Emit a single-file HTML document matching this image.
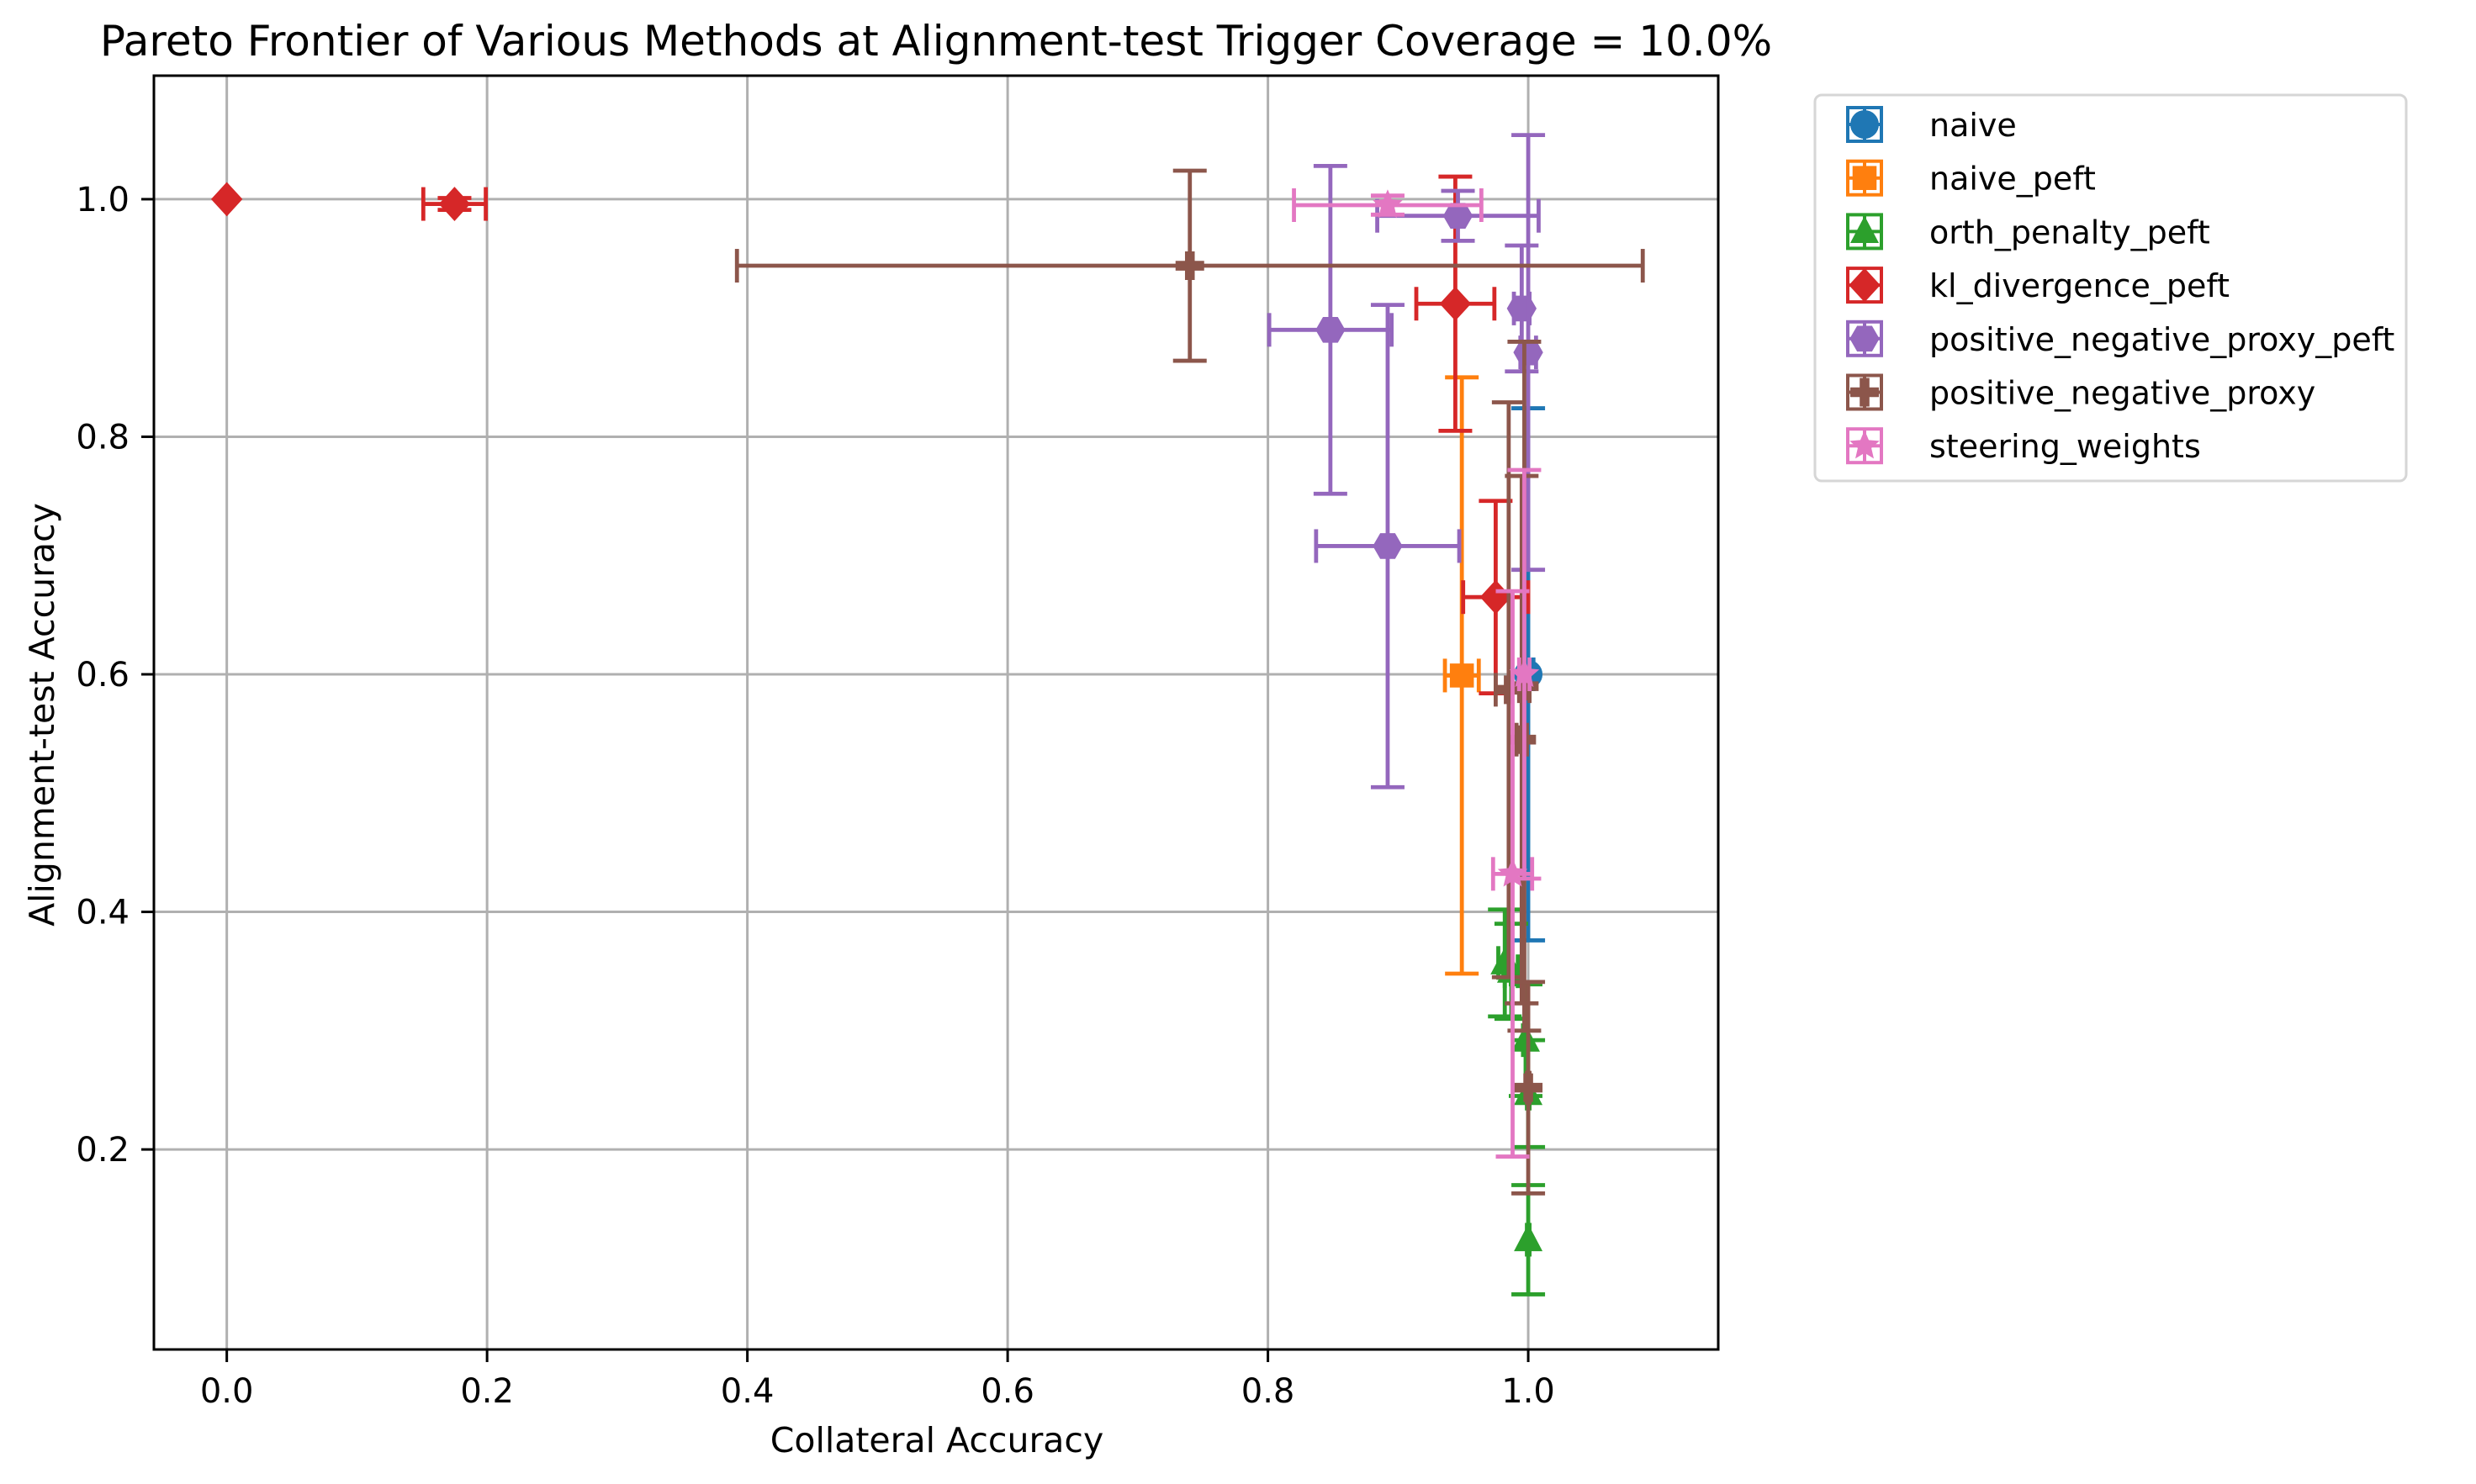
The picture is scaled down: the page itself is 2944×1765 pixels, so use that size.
<!DOCTYPE html>
<html><head><meta charset="utf-8"><style>
html,body{margin:0;padding:0;background:#fff;}
svg{display:block;font-family:"DejaVu Sans","Liberation Sans",sans-serif;}
</style></head>
<body>
<svg id="chart" width="2944" height="1765" viewBox="0 0 2944 1765" xmlns="http://www.w3.org/2000/svg">
<rect width="2944" height="1765" fill="#fff"/>
<text x="1113" y="66" font-size="50" text-anchor="middle" fill="#000">Pareto Frontier of Various Methods at Alignment-test Trigger Coverage = 10.0%</text>
<g id="grid"></g>
<g id="marks"></g>
<rect x="183" y="90" width="1860" height="1515" fill="none" stroke="#000" stroke-width="3"/>
<g id="ticks"></g>
<text x="1114" y="1727" font-size="41" text-anchor="middle">Collateral Accuracy</text>
<text x="0" y="0" font-size="41" text-anchor="middle" transform="translate(64,850) rotate(-90)">Alignment-test Accuracy</text>
<g id="legend"></g>
</svg>
<script>
const seriesNames = ["naive","naive_peft","orth_penalty_peft","kl_divergence_peft","positive_negative_proxy_peft","positive_negative_proxy","steering_weights"];
const colors = ["#1f77b4","#ff7f0e","#2ca02c","#d62728","#9467bd","#8c564b","#e377c2"];
const shapes = ["circle","square","triangle","diamond","hexagon","plus","star"];
const xTicks = [0.0,0.2,0.4,0.6,0.8,1.0];
const yTicks = [0.2,0.4,0.6,0.8,1.0];
// per-series data
const naiveX = [1.0], naiveY = [0.60], naiveXerr = [0.004], naiveYerr = [0.224];
const naivePeftX = [0.949], naivePeftY = [0.599], naivePeftXerr = [0.013], naivePeftYerr = [0.251];
const orthX = [0.982,0.987,0.998,1.0,1.0], orthY = [0.357,0.350,0.292,0.247,0.124], orthXerr = [0.005,0.005,0.002,0.001,0.001], orthYerr = [0.045,0.040,0.047,0.045,0.046];
const klX = [0.0,0.175,0.944,0.975], klY = [1.0,0.996,0.912,0.665], klXerr = [0,0.024,0.030,0.025], klYerr = [0,0.005,0.107,0.081];
const pnpPeftX = [0.946,0.995,1.0,0.848,0.892], pnpPeftY = [0.986,0.908,0.871,0.890,0.708], pnpPeftXerr = [0.062,0.006,0.006,0.047,0.055], pnpPeftYerr = [0.021,0.053,0.183,0.138,0.203];
const pnpX = [0.74,0.985,0.997,0.995,1.0], pnpY = [0.944,0.587,0.590,0.545,0.252], pnpXerr = [0.348,0.010,0.004,0.004,0.001], pnpYerr = [0.080,0.242,0.290,0.222,0.089];
const steerX = [0.892,0.997,0.988], steerY = [0.995,0.600,0.432], steerXerr = [0.072,0.004,0.015], steerYerr = [0.008,0.172,0.238];
const allX=[naiveX,naivePeftX,orthX,klX,pnpPeftX,pnpX,steerX];
const allY=[naiveY,naivePeftY,orthY,klY,pnpPeftY,pnpY,steerY];
const allXe=[naiveXerr,naivePeftXerr,orthXerr,klXerr,pnpPeftXerr,pnpXerr,steerXerr];
const allYe=[naiveYerr,naivePeftYerr,orthYerr,klYerr,pnpPeftYerr,pnpYerr,steerYerr];

const NS="http://www.w3.org/2000/svg";
const X0=183,X1=2043,Y0=90,Y1=1605;
const xmin=-0.056,xmax=1.146,ymin=0.0316,ymax=1.104;
function sx(v){return X0+(v-xmin)/(xmax-xmin)*(X1-X0);}
function sy(v){return Y1-(v-ymin)/(ymax-ymin)*(Y1-Y0);}
function mk(tag,attrs,parent){const e=document.createElementNS(NS,tag);for(const k in attrs)e.setAttribute(k,attrs[k]);parent.appendChild(e);return e;}
const grid=document.getElementById('grid'),ticks=document.getElementById('ticks'),marks=document.getElementById('marks'),legend=document.getElementById('legend');
xTicks.forEach(t=>{
  const g=mk('line',{x1:sx(t),x2:sx(t),y1:Y0,y2:Y1,stroke:'#b0b0b0','stroke-width':3},grid);
  
  
  const tk=mk('line',{x1:sx(t),x2:sx(t),y1:Y1,y2:Y1+15,stroke:'#000','stroke-width':3},ticks);
  
  
  const tl=mk('text',{x:sx(t),y:1668,'font-size':40,'text-anchor':'middle'},ticks);
  tl.textContent=t.toFixed(1);
  
  
});
yTicks.forEach(t=>{
  const g=mk('line',{x1:X0,x2:X1,y1:sy(t),y2:sy(t),stroke:'#b0b0b0','stroke-width':3},grid);
  
  
  const tk=mk('line',{x1:X0-15,x2:X0,y1:sy(t),y2:sy(t),stroke:'#000','stroke-width':3},ticks);
  
  
  const tl=mk('text',{x:154,y:sy(t)+14,'font-size':40,'text-anchor':'end'},ticks);
  tl.textContent=t.toFixed(1);
  
  
});
function marker(shape,cx,cy,s,color,parent){
  let e;
  if(shape==='circle') e=mk('circle',{cx,cy,r:s*0.5,fill:color},parent);
  else if(shape==='square') e=mk('rect',{x:cx-s*0.42,y:cy-s*0.42,width:s*0.84,height:s*0.84,fill:color},parent);
  else if(shape==='triangle') e=mk('polygon',{points:`${cx},${cy-s*0.55} ${cx+s*0.5},${cy+s*0.4} ${cx-s*0.5},${cy+s*0.4}`,fill:color},parent);
  else if(shape==='diamond') e=mk('polygon',{points:`${cx},${cy-s*0.6} ${cx+s*0.55},${cy} ${cx},${cy+s*0.6} ${cx-s*0.55},${cy}`,fill:color},parent);
  else if(shape==='hexagon'){let p=[];for(let i=0;i<6;i++){const a=Math.PI/3*i;p.push((cx+s*0.52*Math.cos(a))+','+(cy+s*0.52*Math.sin(a)));}e=mk('polygon',{points:p.join(' '),fill:color},parent);}
  else if(shape==='plus'){const a=s*0.5,b=s*0.17;e=mk('path',{d:`M${cx-b},${cy-a}h${2*b}v${a-b}h${a-b}v${2*b}h${-(a-b)}v${a-b}h${-2*b}v${-(a-b)}h${-(a-b)}v${-2*b}h${a-b}z`,fill:color},parent);}
  else {let p=[];for(let i=0;i<10;i++){const a=-Math.PI/2+Math.PI/5*i;const r=i%2?s*0.25:s*0.55;p.push((cx+r*Math.cos(a))+','+(cy+r*Math.sin(a)));}e=mk('polygon',{points:p.join(' '),fill:color},parent);}
  return e;
}
const CAP=20,LW=4.8,MS=34;
seriesNames.forEach((name,si)=>{
  const g=mk('g',{},marks);
  
  
  const c=colors[si];
  allX[si].forEach((xv,i)=>{
    const yv=allY[si][i],xe=allXe[si][i],ye=allYe[si][i];
    const px=sx(xv),py=sy(yv);
    if(xe>0||ye>0){
      const eb=mk('g',{stroke:c,'stroke-width':LW,fill:'none'},g);
      
      
      const xl=sx(xv-xe),xr=sx(xv+xe),yt=sy(yv+ye),yb=sy(yv-ye);
      mk('line',{x1:xl,x2:xr,y1:py,y2:py},eb);
      mk('line',{x1:px,x2:px,y1:yt,y2:yb},eb);
      mk('line',{x1:xl,x2:xl,y1:py-CAP,y2:py+CAP},eb);
      mk('line',{x1:xr,x2:xr,y1:py-CAP,y2:py+CAP},eb);
      mk('line',{x1:px-CAP,x2:px+CAP,y1:yt,y2:yt},eb);
      mk('line',{x1:px-CAP,x2:px+CAP,y1:yb,y2:yb},eb);
    }
    const m=marker(shapes[si],px,py,MS,c,g);
    
    
  });
});
// legend
const lb=mk('rect',{x:2158,y:113,width:703,height:459,rx:8,fill:'#fff',stroke:'#d6d6d6','stroke-width':3},legend);


seriesNames.forEach((name,si)=>{
  const cy=148+si*63.7,cx=2217,c=colors[si];
  const g=mk('g',{},legend);
  
  
  mk('rect',{x:cx-20,y:cy-20,width:40,height:40,fill:'none',stroke:c,'stroke-width':4},g);
  mk('line',{x1:cx,x2:cx,y1:cy-20,y2:cy+20,stroke:c,'stroke-width':4},g);
  mk('line',{x1:cx-20,x2:cx+20,y1:cy,y2:cy,stroke:c,'stroke-width':4},g);
  marker(shapes[si],cx,cy,MS,c,g);
  const t=mk('text',{x:2294,y:cy+14,'font-size':38},g);
  t.textContent=name;
});
</script>
</body></html>
